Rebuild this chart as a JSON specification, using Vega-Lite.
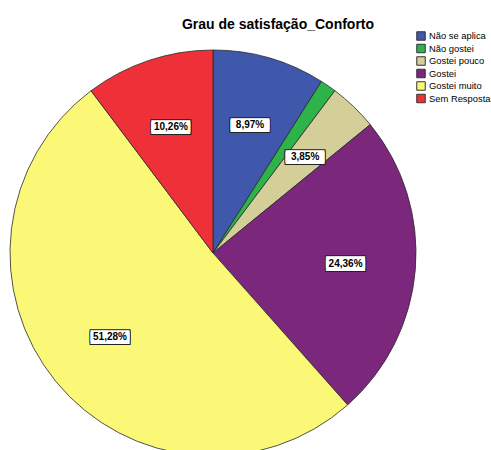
{
  "$schema": "https://vega.github.io/schema/vega-lite/v6.json",
  "autosize": "none",
  "padding": {"left": 0, "top": 40, "right": 65, "bottom": 0},
  "width": 426,
  "height": 426,
  "background": "white",
  "title": {
    "text": "Grau de satisfação_Conforto",
    "font": "Liberation Sans",
    "fontSize": 14,
    "fontWeight": "bold",
    "color": "#000000",
    "anchor": "middle",
    "dx": 65,
    "dy": 25,
    "baseline": "alphabetic",
    "offset": 13
  },
  "data": {
    "values": [
      {"idx": 1, "cat": "Não se aplica", "pct": 8.97, "label": "8,97%"},
      {"idx": 2, "cat": "Não gostei", "pct": 1.28, "label": ""},
      {"idx": 3, "cat": "Gostei pouco", "pct": 3.85, "label": "3,85%"},
      {"idx": 4, "cat": "Gostei", "pct": 24.36, "label": "24,36%"},
      {"idx": 5, "cat": "Gostei muito", "pct": 51.28, "label": "51,28%"},
      {"idx": 6, "cat": "Sem Resposta", "pct": 10.26, "label": "10,26%"}
    ]
  },
  "encoding": {
    "theta": {"field": "pct", "type": "quantitative", "stack": true},
    "order": {"field": "idx", "type": "quantitative"}
  },
  "layer": [
    {
      "mark": {"type": "arc", "outerRadius": 203, "stroke": "#2a2a2a", "strokeWidth": 0.8},
      "encoding": {
        "color": {
          "field": "cat",
          "type": "nominal",
          "sort": ["Não se aplica", "Não gostei", "Gostei pouco", "Gostei", "Gostei muito", "Sem Resposta"],
          "scale": {
            "domain": ["Não se aplica", "Não gostei", "Gostei pouco", "Gostei", "Gostei muito", "Sem Resposta"],
            "range": ["#3F58AB", "#2DB34A", "#D4CE98", "#7B277C", "#FBF877", "#EE3039"]
          },
          "legend": {
            "title": null,
            "orient": "none",
            "legendX": 416,
            "legendY": -9,
            "padding": 0,
            "symbolType": "square",
            "symbolSize": 72,
            "symbolStrokeColor": "#333333",
            "symbolStrokeWidth": 1,
            "symbolOpacity": 1,
            "labelFont": "Liberation Sans",
            "labelFontSize": 9.4,
            "labelColor": "#000000",
            "labelOffset": 3,
            "rowPadding": -1.5
          }
        }
      }
    },
    {
      "mark": {
        "type": "text", "text": ["▬", "▬"], "lineHeight": 2.4, "radius": 133,
        "font": "Liberation Sans", "fontSize": 39,
        "fill": "white", "stroke": "#222222", "strokeWidth": 2,
        "align": "center", "baseline": "alphabetic", "dy": 4.7
      },
      "encoding": {
        "opacity": {"condition": {"test": "datum.label === ''", "value": 0}, "value": 1}
      }
    },
    {
      "mark": {
        "type": "text", "text": ["▬", "▬"], "lineHeight": 2.4, "radius": 133,
        "font": "Liberation Sans", "fontSize": 39,
        "fill": "white",
        "align": "center", "baseline": "alphabetic", "dy": 4.7
      },
      "encoding": {
        "opacity": {"condition": {"test": "datum.label === ''", "value": 0}, "value": 1}
      }
    },
    {
      "mark": {
        "type": "text",
        "radius": 133,
        "font": "Liberation Sans",
        "fontSize": 10,
        "fontWeight": "bold",
        "fill": "black",
        "align": "center",
        "baseline": "middle"
      },
      "encoding": {
        "text": {"field": "label"}
      }
    }
  ]
}
